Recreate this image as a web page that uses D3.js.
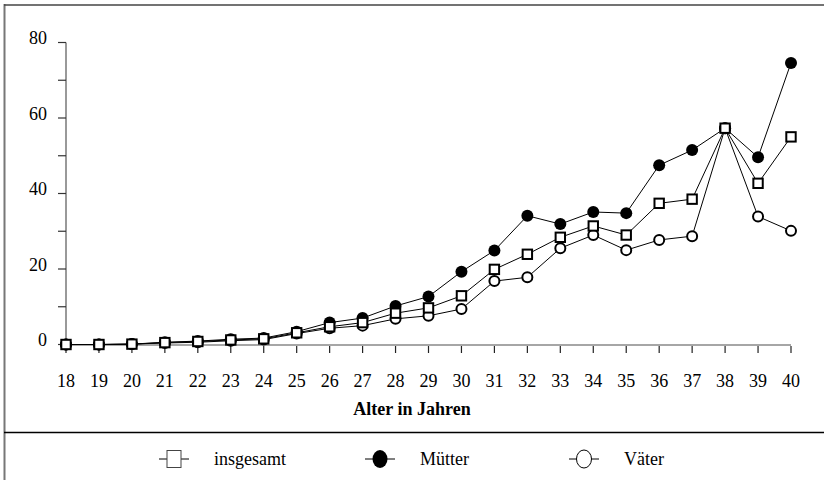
<!DOCTYPE html>
<html>
<head>
<meta charset="utf-8">
<script src="https://cdn.jsdelivr.net/npm/d3@7"></script>
<style>
  body{margin:0;background:#fff;}
  svg text{font-family:"Liberation Serif","Times New Roman",serif;fill:#000;}
</style>
</head>
<body>
<div id="chart"></div>
<script>
// Alter (Jahre)
var ages = d3.range(18, 41);
var insgesamt = [0, 0, 0.1, 0.5, 0.8, 1.2, 1.5, 3.1, 4.7, 5.8, 8.3, 9.7, 12.9, 19.9, 23.9, 28.4, 31.4, 29.0, 37.4, 38.5, 57.3, 42.7, 55.0];
var muetter   = [0, 0, 0.1, 0.6, 0.9, 1.4, 1.7, 3.4, 5.8, 7.0, 10.2, 12.7, 19.3, 24.9, 34.1, 31.9, 35.1, 34.8, 47.5, 51.5, 57.3, 49.6, 74.6];
var vaeter    = [0, 0, 0.1, 0.4, 0.6, 1.0, 1.3, 2.9, 4.3, 5.0, 6.8, 7.6, 9.4, 16.8, 17.8, 25.5, 29.0, 25.0, 27.7, 28.7, 57.3, 33.9, 30.1];
var yTicks = [0, 20, 40, 60, 80];
var seriesNames = ["insgesamt", "Mütter", "Väter"];

var width = 824, height = 480;
var svg = d3.select("#chart").append("svg")
    .attr("width", width).attr("height", height);

// Rahmen
svg.append("line").attr("x1", 4.5).attr("y1", 4).attr("x2", 4.5).attr("y2", height)
    .attr("stroke", "#777").attr("stroke-width", 2);
svg.append("line").attr("x1", 4).attr("y1", 5).attr("x2", width).attr("y2", 5)
    .attr("stroke", "#444").attr("stroke-width", 1.5);
svg.append("line").attr("x1", 4).attr("y1", 432.5).attr("x2", width).attr("y2", 432.5)
    .attr("stroke", "#000").attr("stroke-width", 1.5);

var x = d3.scaleLinear().domain([18, 40]).range([66, 791]);
var y = d3.scaleLinear().domain([0, 80]).range([344.5, 42.5]);

// y-Achse
svg.append("line").attr("x1", 66).attr("x2", 66).attr("y1", y(0)).attr("y2", y(80))
    .attr("stroke", "#555").attr("stroke-width", 1.2);
svg.selectAll(".ytick").data(d3.range(0, 81, 10)).enter().append("line")
    .attr("x1", 58).attr("x2", 66)
    .attr("y1", function(d){ return y(d); }).attr("y2", function(d){ return y(d); })
    .attr("stroke", "#333").attr("stroke-width", 1.2);
svg.selectAll(".ylab").data(yTicks).enter().append("text")
    .attr("x", 47).attr("y", function(d){ return y(d); })
    .attr("dy", "0.1em")
    .attr("text-anchor", "end").attr("font-size", "18px")
    .text(function(d){ return d; });

// x-Achse
svg.append("line").attr("x1", 66).attr("x2", 791).attr("y1", 345).attr("y2", 345)
    .attr("stroke", "#888").attr("stroke-width", 1.5);
svg.selectAll(".xtick").data(ages).enter().append("line")
    .attr("x1", function(d){ return x(d); }).attr("x2", function(d){ return x(d); })
    .attr("y1", 346).attr("y2", 353)
    .attr("stroke", "#222").attr("stroke-width", 1.2);
svg.selectAll(".xlab").data(ages).enter().append("text")
    .attr("x", function(d){ return x(d); }).attr("y", 387)
    .attr("text-anchor", "middle").attr("font-size", "18px")
    .text(function(d){ return d; });

svg.append("text").attr("x", 412).attr("y", 415)
    .attr("text-anchor", "middle").attr("font-size", "18px").attr("font-weight", "bold")
    .text("Alter in Jahren");

var line = d3.line()
    .x(function(d, i){ return x(ages[i]); })
    .y(function(d){ return y(d); });

function drawLine(vals){
  svg.append("path").datum(vals).attr("d", line)
      .attr("fill", "none").attr("stroke", "#000").attr("stroke-width", 1);
}

drawLine(muetter);
drawLine(vaeter);
drawLine(insgesamt);

svg.selectAll(".m").data(muetter).enter().append("circle")
    .attr("cx", function(d, i){ return x(ages[i]); })
    .attr("cy", function(d){ return y(d); })
    .attr("r", 6).attr("fill", "#000");

svg.selectAll(".v").data(vaeter).enter().append("circle")
    .attr("cx", function(d, i){ return x(ages[i]); })
    .attr("cy", function(d){ return y(d); })
    .attr("r", 5).attr("fill", "#fff").attr("stroke", "#000").attr("stroke-width", 2);

svg.selectAll(".s").data(insgesamt).enter().append("rect")
    .attr("x", function(d, i){ return x(ages[i]) - 4.7; })
    .attr("y", function(d){ return y(d) - 4.7; })
    .attr("width", 9.4).attr("height", 9.4)
    .attr("fill", "#fff").attr("stroke", "#000").attr("stroke-width", 2);

// Legende
var legX = [174, 380, 584];
var legY = 459;
var leg = svg.selectAll(".leg").data(seriesNames).enter().append("g")
    .attr("transform", function(d, i){ return "translate(" + legX[i] + "," + legY + ")"; });
leg.append("line").attr("x1", -15).attr("x2", 15).attr("y1", 0).attr("y2", 0)
    .attr("stroke", "#000").attr("stroke-width", 1);
leg.each(function(d, i){
  var g = d3.select(this);
  if (i === 0) {
    g.append("rect").attr("x", -7).attr("y", -8.5).attr("width", 14).attr("height", 17)
        .attr("fill", "#fff").attr("stroke", "#444").attr("stroke-width", 1);
  } else if (i === 1) {
    g.append("ellipse").attr("rx", 7.5).attr("ry", 9).attr("fill", "#000");
  } else {
    g.append("ellipse").attr("rx", 7.5).attr("ry", 9)
        .attr("fill", "#fff").attr("stroke", "#000").attr("stroke-width", 1);
  }
});
leg.append("text").attr("x", 40).attr("y", 6)
    .attr("font-size", "18px").text(function(d){ return d; });
</script>
</body>
</html>
